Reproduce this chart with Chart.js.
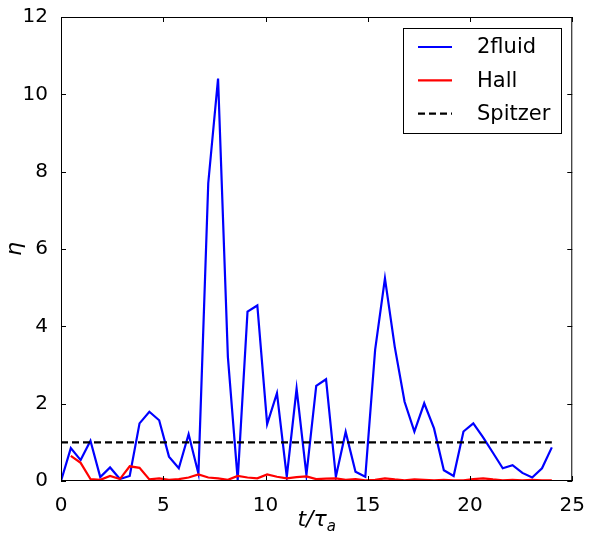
<!DOCTYPE html>
<html lang="en">
<head>
    <meta charset="UTF-8">
    <title>eta vs t</title>
    <script src="https://cdn.jsdelivr.net/npm/chart.js"></script>
    <style>
        body { margin: 0; background: #fff; }
        canvas { display: block; }
    </style>
</head>
<body>
    <canvas id="chart" width="590" height="533"></canvas>

    <script>
        // time axis, t / tau_a
        const times = [0, 0.48, 0.96, 1.44, 1.92, 2.4, 2.88, 3.36, 3.84, 4.32, 4.8, 5.28, 5.76, 6.24, 6.72,
            7.2, 7.68, 8.16, 8.64, 9.12, 9.6, 10.08, 10.56, 11.04, 11.52, 12, 12.48, 12.96, 13.44, 13.92,
            14.4, 14.88, 15.36, 15.84, 16.32, 16.8, 17.28, 17.76, 18.24, 18.72, 19.2, 19.68, 20.16, 20.64,
            21.12, 21.6, 22.08, 22.56, 23.04, 23.52, 24];

        const twoFluid = [0, 0.85, 0.54, 1.04, 0.10, 0.35, 0.05, 0.13, 1.49, 1.79, 1.57, 0.63, 0.33, 1.21, 0.19,
            7.70, 10.41, 3.21, 0.03, 4.38, 4.54, 1.47, 2.27, 0.11, 2.39, 0.16, 2.46, 2.63, 0.11, 1.27,
            0.24, 0.11, 3.39, 5.24, 3.47, 2.05, 1.28, 2.01, 1.36, 0.28, 0.13, 1.28, 1.49, 1.13, 0.73,
            0.33, 0.41, 0.21, 0.09, 0.33, 0.87];

        const hall = [null, 0.65, 0.47, 0.05, 0.03, 0.13, 0.05, 0.38, 0.34, 0.04, 0.07, 0.03, 0.05, 0.09, 0.17,
            0.09, 0.07, 0.03, 0.13, 0.09, 0.07, 0.17, 0.11, 0.07, 0.10, 0.12, 0.05, 0.06, 0.07, 0.03,
            0.05, 0.02, 0.03, 0.07, 0.04, 0.02, 0.04, 0.03, 0.02, 0.03, 0.02, 0.02, 0.05, 0.07, 0.04,
            0.02, 0.03, 0.02, 0.03, 0.02, 0.02];

        const spitzerT = [0, 24];
        const spitzer = [1, 1];

        const xTicks = [0, 5, 10, 15, 20, 25];
        const yTicks = [0, 2, 4, 6, 8, 10, 12];

        const pts = (xs, ys) => xs.map((x, i) => ({ x: x, y: ys[i] }));

        // box, inward ticks, axis titles and legend like the matplotlib original
        const decor = {
            id: 'decor',
            afterDraw(chart) {
                const { ctx, chartArea: a, scales: { x, y } } = chart;
                ctx.save();
                ctx.strokeStyle = '#000';
                ctx.lineWidth = 1;
                ctx.strokeRect(a.left + 0.5, a.top + 0.5, a.right - a.left - 1, a.bottom - a.top - 1);

                const tl = 5;
                ctx.beginPath();
                xTicks.forEach(v => {
                    const px = Math.round(x.getPixelForValue(v)) + 0.5;
                    ctx.moveTo(px, a.bottom); ctx.lineTo(px, a.bottom - tl);
                    ctx.moveTo(px, a.top); ctx.lineTo(px, a.top + tl);
                });
                yTicks.forEach(v => {
                    const py = Math.round(y.getPixelForValue(v)) + 0.5;
                    ctx.moveTo(a.left, py); ctx.lineTo(a.left + tl, py);
                    ctx.moveTo(a.right, py); ctx.lineTo(a.right - tl, py);
                });
                ctx.stroke();

                // axis titles
                ctx.fillStyle = '#000';
                ctx.font = 'italic 22px "DejaVu Sans"';
                ctx.textBaseline = 'alphabetic';
                ctx.textAlign = 'left';
                const main = 't/τ';
                const w = ctx.measureText(main).width;
                ctx.font = 'italic 15px "DejaVu Sans"';
                const ws = ctx.measureText('a').width;
                const cx = (a.left + a.right) / 2;
                const x0 = cx - (w + ws) / 2;
                ctx.font = 'italic 22px "DejaVu Sans"';
                ctx.fillText(main, x0, 526);
                ctx.font = 'italic 15px "DejaVu Sans"';
                ctx.fillText('a', x0 + w, 531);

                ctx.save();
                ctx.translate(21, (a.top + a.bottom) / 2);
                ctx.rotate(-Math.PI / 2);
                ctx.font = 'italic 22px "DejaVu Sans"';
                ctx.textAlign = 'center';
                ctx.fillText('η', 0, 0);
                ctx.restore();

                // legend
                const lx = 403.5, ly = 28.5, lw = 158, lh = 105;
                ctx.fillStyle = '#fff';
                ctx.fillRect(lx, ly, lw, lh);
                ctx.strokeStyle = '#000';
                ctx.strokeRect(lx, ly, lw, lh);
                ctx.font = '21px "DejaVu Sans"';
                ctx.textBaseline = 'middle';
                ctx.textAlign = 'left';
                chart.data.datasets.forEach((ds, i) => {
                    const yy = 47 + i * 33.3;
                    ctx.beginPath();
                    ctx.strokeStyle = ds.borderColor;
                    ctx.lineWidth = ds.borderWidth;
                    ctx.setLineDash(ds.borderDash || []);
                    ctx.moveTo(418, yy); ctx.lineTo(452, yy);
                    ctx.stroke();
                    ctx.setLineDash([]);
                    ctx.fillStyle = '#000';
                    ctx.fillText(ds.label, 477, yy + 1);
                });
                ctx.restore();
            }
        };

        new Chart(document.getElementById('chart'), {
            type: 'line',
            data: {
                datasets: [{
                    label: '2fluid',
                    data: pts(times, twoFluid),
                    borderColor: '#0000ff',
                    borderWidth: 2.2,
                    order: 3,
                }, {
                    label: 'Hall',
                    data: pts(times, hall),
                    borderColor: '#ff0000',
                    borderWidth: 2.2,
                    order: 2,
                }, {
                    label: 'Spitzer',
                    data: pts(spitzerT, spitzer),
                    borderColor: '#000000',
                    borderWidth: 2.2,
                    borderDash: [7, 4],
                    order: 1,
                }],
            },
            options: {
                responsive: false,
                animation: false,
                devicePixelRatio: 1,
                layout: { padding: { left: 0, right: 17, top: 17, bottom: 0 } },
                elements: { point: { radius: 0 }, line: { tension: 0 } },
                plugins: {
                    legend: { display: false },
                    tooltip: { enabled: false },
                },
                scales: {
                    x: {
                        type: 'linear',
                        min: 0, max: 25,
                        afterBuildTicks: s => { s.ticks = xTicks.map(v => ({ value: v })); },
                        afterFit: s => { s.height = 52; },
                        grid: { display: false },
                        border: { display: false },
                        ticks: { color: '#000', font: { family: 'DejaVu Sans', size: 20 }, padding: 5, maxRotation: 0 },
                    },
                    y: {
                        min: 0, max: 12,
                        afterBuildTicks: s => { s.ticks = yTicks.map(v => ({ value: v })); },
                        afterFit: s => { s.width = 61; },
                        grid: { display: false },
                        border: { display: false },
                        ticks: { color: '#000', font: { family: 'DejaVu Sans', size: 20 }, padding: 5 },
                    },
                },
            },
            plugins: [decor],
        });
    </script>
</body>
</html>
